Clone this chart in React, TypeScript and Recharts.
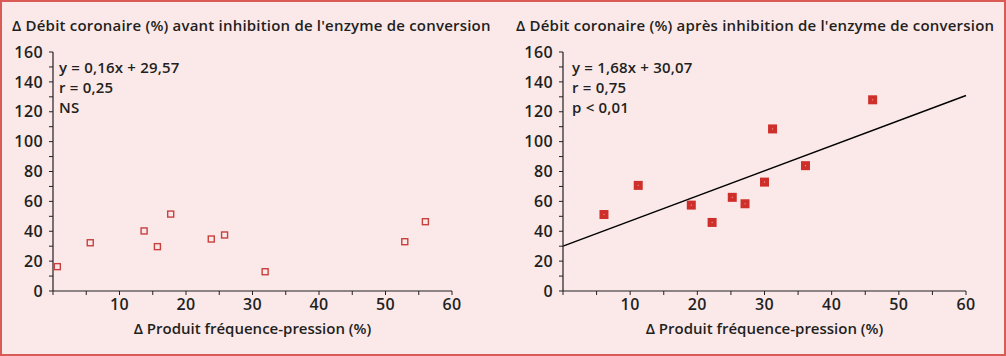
import React from 'react';
import { ScatterChart, Scatter, XAxis, YAxis, ReferenceLine } from 'recharts';

const beforeX = [0.65, 5.6, 13.7, 15.7, 17.7, 23.8, 25.8, 31.9, 52.9, 56.0];
const beforeY = [16.3, 32.3, 40.2, 29.7, 51.5, 34.8, 37.5, 12.9, 33.0, 46.4];
const afterX = [6.1, 11.2, 19.1, 22.2, 25.2, 27.1, 30.0, 31.2, 36.1, 46.1];
const afterY = [51.2, 70.7, 57.5, 45.9, 62.7, 58.4, 72.9, 108.5, 83.9, 128.0];
const yTicks = [0, 10, 20, 30, 40, 50, 60, 70, 80, 90, 100, 110, 120, 130, 140, 150, 160];
const xTicks = [0, 5, 10, 15, 20, 25, 30, 35, 40, 45, 50, 55, 60];
const slope = 1.68;
const intercept = 30.07;
const titleBefore = "Δ Débit coronaire (%) avant inhibition de l'enzyme de conversion";
const titleAfter = "Δ Débit coronaire (%) après inhibition de l'enzyme de conversion";
const xLabel = 'Δ Produit fréquence-pression (%)';
const statsBefore = ['y = 0,16x + 29,57', 'r = 0,25', 'NS'];
const statsAfter = ['y = 1,68x + 30,07', 'r = 0,75', 'p < 0,01'];

const beforeData = beforeX.map((x, i) => ({ x, y: beforeY[i] }));
const afterData = afterX.map((x, i) => ({ x, y: afterY[i] }));

const FONT = '"Open Sans", sans-serif';
const TEXT = '#231f20';
const BG = '#fbe9ea';
const BORDER = '#da5a55';
const RED = '#cf2f2a';

const tickStyle = { fontSize: 16, fill: TEXT, fontFamily: FONT, fontWeight: 600, letterSpacing: 0.4 };

const HollowSquare = (p: any) => (
  <rect x={p.cx - 3} y={p.cy - 3} width={6} height={6} fill="none" stroke="#c8403d" strokeWidth={1.4} />
);
const FilledSquare = (p: any) => (
  <g>
    <rect x={p.cx - 4.5} y={p.cy - 4.5} width={9} height={9} fill={RED} />
    <rect x={p.cx - 0.5} y={p.cy - 0.5} width={1} height={1} fill="#f3b0a8" />
  </g>
);

const yFmt = (v: number) => (v % 20 === 0 ? String(v) : '');
const xFmt = (v: number) => (v % 10 === 0 && v !== 0 ? String(v) : '');

function Panel(props: { left: number; width: number; yAxisWidth: number; rightMargin: number; data: any[]; filled: boolean; line: boolean }) {
  const { left, width, yAxisWidth, rightMargin, data, filled, line } = props;
  return (
    <div style={{ position: 'absolute', left, top: 0 }}>
      <ScatterChart width={width} height={356} margin={{ top: 52, right: rightMargin, bottom: 25, left: 0 }}>
        <XAxis
          type="number"
          dataKey="x"
          domain={[0, 60]}
          ticks={xTicks}
          tickFormatter={xFmt}
          interval={0}
          height={40}
          tickSize={4}
          tickMargin={4}
          tick={tickStyle}
          stroke="#231f20"
          axisLine={{ stroke: '#231f20', strokeWidth: 1.2 }}
          tickLine={{ stroke: '#231f20', strokeWidth: 1 }}
          allowDataOverflow
        />
        <YAxis
          type="number"
          dataKey="y"
          domain={[0, 160]}
          ticks={yTicks}
          tickFormatter={yFmt}
          interval={0}
          width={yAxisWidth}
          tickSize={4}
          tickMargin={6}
          tick={tickStyle}
          axisLine={{ stroke: '#231f20', strokeWidth: 1.2 }}
          tickLine={{ stroke: '#231f20', strokeWidth: 1 }}
          allowDataOverflow
        />
        {line && (
          <ReferenceLine
            segment={[
              { x: 0, y: intercept },
              { x: 60, y: intercept + slope * 60 },
            ]}
            stroke="#000"
            strokeWidth={1.5}
          />
        )}
        <Scatter data={data} isAnimationActive={false} shape={filled ? FilledSquare : HollowSquare} />
      </ScatterChart>
    </div>
  );
}

const textBase: React.CSSProperties = {
  position: 'absolute',
  fontFamily: FONT,
  fontWeight: 600,
  fontSize: 15,
  lineHeight: '20px',
  color: TEXT,
  whiteSpace: 'nowrap',
};

export default function App() {
  return (
    <div
      style={{
        position: 'absolute',
        left: 0,
        top: 0,
        width: 1006,
        height: 356,
        background: BG,
        boxShadow: `inset 0 0 0 2px ${BORDER}`,
        overflow: 'hidden',
      }}
    >
      <Panel left={0} width={500} yAxisWidth={53} rightMargin={48} data={beforeData} filled={false} line={false} />
      <Panel left={500} width={506} yAxisWidth={63} rightMargin={40} data={afterData} filled={true} line={true} />
      <div style={{ ...textBase, left: 12, top: 15, letterSpacing: 0.2 }}>{titleBefore}</div>
      <div style={{ ...textBase, left: 516, top: 15, letterSpacing: 0.2 }}>{titleAfter}</div>
      <div style={{ ...textBase, left: 59, top: 57, letterSpacing: 0.2 }}>
        {statsBefore.map((s) => (
          <div key={s}>{s}</div>
        ))}
      </div>
      <div style={{ ...textBase, left: 572, top: 57, letterSpacing: 0.2 }}>
        {statsAfter.map((s) => (
          <div key={s}>{s}</div>
        ))}
      </div>
      <div style={{ ...textBase, left: 53, width: 399, top: 318, textAlign: 'center' }}>{xLabel}</div>
      <div style={{ ...textBase, left: 563, width: 403, top: 318, textAlign: 'center' }}>{xLabel}</div>
    </div>
  );
}
